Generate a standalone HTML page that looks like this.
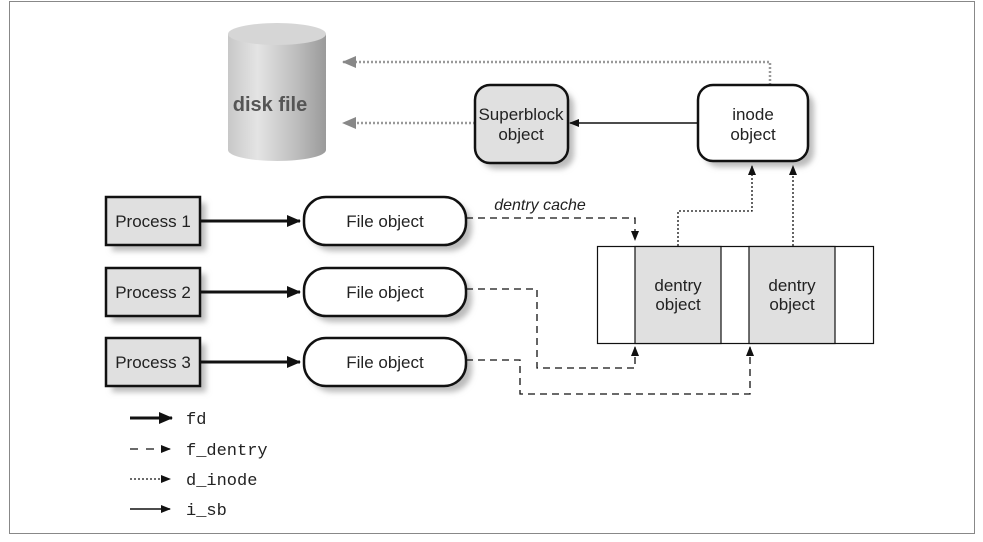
<!DOCTYPE html>
<html><head><meta charset="utf-8"><style>
html,body{margin:0;padding:0;background:#fff;}
svg{display:block;}
text{font-family:"Liberation Sans Narrow","Liberation Sans",sans-serif;}
.c{font-size:17px;text-anchor:middle;fill:#222;}
.m{font-family:"Liberation Mono",monospace;font-size:17px;fill:#222;}
</style></head><body>
<svg width="983" height="542" viewBox="0 0 983 542" xmlns="http://www.w3.org/2000/svg">
<defs>
<marker id="ah" markerWidth="10" markerHeight="8" refX="9" refY="4" orient="auto" markerUnits="userSpaceOnUse"><path d="M0,0 L10,4 L0,8 z" fill="#111"/></marker>
<marker id="ahb" markerWidth="14" markerHeight="12" refX="13" refY="6" orient="auto" markerUnits="userSpaceOnUse"><path d="M0,0 L14,6 L0,12 z" fill="#111"/></marker>
<marker id="ahg" markerWidth="14" markerHeight="12" refX="13" refY="6" orient="auto" markerUnits="userSpaceOnUse"><path d="M0,0 L14,6 L0,12 z" fill="#888"/></marker>
<linearGradient id="cyl" x1="0" x2="1">
<stop offset="0" stop-color="#c8c8c8"/><stop offset="0.3" stop-color="#e4e4e4"/><stop offset="0.7" stop-color="#bdbdbd"/><stop offset="1" stop-color="#9a9a9a"/></linearGradient>
<filter id="sh" x="-20%" y="-20%" width="150%" height="150%"><feGaussianBlur stdDeviation="3"/></filter>
</defs>
<rect x="9.5" y="1.5" width="965" height="532" fill="none" stroke="#888" stroke-width="1"/>

<path d="M228,34 L228,150 A49,11 0 0 0 326,150 L326,34 Z" fill="url(#cyl)"/>
<ellipse cx="277" cy="34" rx="49" ry="11" fill="#d6d6d6"/>
<text x="270" y="111" font-size="20" font-weight="bold" fill="#555" text-anchor="middle">disk file</text>

<polyline points="770,85 770,62 343,62" fill="none" stroke="#999" stroke-width="2.5" stroke-dasharray="2,2" marker-end="url(#ahg)"/>
<line x1="475" y1="123" x2="343" y2="123" stroke="#999" stroke-width="2.5" stroke-dasharray="2,2" marker-end="url(#ahg)"/>

<rect x="481" y="91" width="93" height="78" rx="15" fill="#bbb" filter="url(#sh)"/>
<rect x="475" y="85" width="93" height="78" rx="15" fill="#e0e0e0" stroke="#111" stroke-width="2.5"/>
<text class="c" x="521" y="120">Superblock</text><text class="c" x="521" y="140">object</text>
<line x1="698" y1="123" x2="570" y2="123" stroke="#111" stroke-width="1.5" marker-end="url(#ah)"/>
<rect x="704" y="91" width="110" height="76" rx="15" fill="#bbb" filter="url(#sh)"/>
<rect x="698" y="85" width="110" height="76" rx="15" fill="#fff" stroke="#111" stroke-width="2.5"/>
<text class="c" x="753" y="120">inode</text><text class="c" x="753" y="140">object</text>

<g>
<rect x="112" y="203" width="94" height="48" fill="#bbb" filter="url(#sh)"/>
<rect x="106" y="197" width="94" height="48" fill="#e0e0e0" stroke="#111" stroke-width="2.5"/>
<text class="c" x="153" y="227">Process 1</text>
<rect x="112" y="274" width="94" height="48" fill="#bbb" filter="url(#sh)"/>
<rect x="106" y="268" width="94" height="48" fill="#e0e0e0" stroke="#111" stroke-width="2.5"/>
<text class="c" x="153" y="298">Process 2</text>
<rect x="112" y="344" width="94" height="48" fill="#bbb" filter="url(#sh)"/>
<rect x="106" y="338" width="94" height="48" fill="#e0e0e0" stroke="#111" stroke-width="2.5"/>
<text class="c" x="153" y="368">Process 3</text>

<rect x="310" y="203" width="162" height="48" rx="22" fill="#bbb" filter="url(#sh)"/>
<rect x="304" y="197" width="162" height="48" rx="22" fill="#fff" stroke="#111" stroke-width="2.5"/>
<text class="c" x="385" y="227">File object</text>
<rect x="310" y="274" width="162" height="48" rx="22" fill="#bbb" filter="url(#sh)"/>
<rect x="304" y="268" width="162" height="48" rx="22" fill="#fff" stroke="#111" stroke-width="2.5"/>
<text class="c" x="385" y="298">File object</text>
<rect x="310" y="344" width="162" height="48" rx="22" fill="#bbb" filter="url(#sh)"/>
<rect x="304" y="338" width="162" height="48" rx="22" fill="#fff" stroke="#111" stroke-width="2.5"/>
<text class="c" x="385" y="368">File object</text>

<line x1="200" y1="221" x2="300" y2="221" stroke="#111" stroke-width="3" marker-end="url(#ahb)"/>
<line x1="200" y1="292" x2="300" y2="292" stroke="#111" stroke-width="3" marker-end="url(#ahb)"/>
<line x1="200" y1="362" x2="300" y2="362" stroke="#111" stroke-width="3" marker-end="url(#ahb)"/>
</g>

<text x="540" y="210" font-size="16" font-style="italic" text-anchor="middle" fill="#222">dentry cache</text>

<rect x="597.5" y="246.5" width="276" height="97" fill="#fff" stroke="#111" stroke-width="1.2"/>
<rect x="635" y="246.5" width="86" height="97" fill="#e0e0e0" stroke="#111" stroke-width="1.2"/>
<rect x="749" y="246.5" width="86" height="97" fill="#e0e0e0" stroke="#111" stroke-width="1.2"/>
<text class="c" x="678" y="291">dentry</text><text class="c" x="678" y="310">object</text>
<text class="c" x="792" y="291">dentry</text><text class="c" x="792" y="310">object</text>

<g fill="none" stroke="#111" stroke-width="1.3" stroke-dasharray="7,5">
<polyline points="466,218 635,218 635,240" marker-end="url(#ah)"/>
<polyline points="466,289 537,289 537,368 635,368 635,347" marker-end="url(#ah)"/>
<polyline points="466,360 520,360 520,394 750,394 750,347" marker-end="url(#ah)"/>
</g>
<g fill="none" stroke="#111" stroke-width="1.3" stroke-dasharray="2,2">
<polyline points="678,246 678,211 752,211 752,166" marker-end="url(#ah)"/>
<polyline points="793,246 793,166" marker-end="url(#ah)"/>
</g>

<line x1="130" y1="418" x2="172" y2="418" stroke="#111" stroke-width="3" marker-end="url(#ahb)"/>
<text class="m" x="186" y="424">fd</text>
<line x1="130" y1="449" x2="170" y2="449" stroke="#111" stroke-width="1.3" stroke-dasharray="8,8" marker-end="url(#ah)"/>
<text class="m" x="186" y="455">f_dentry</text>
<line x1="130" y1="479" x2="170" y2="479" stroke="#111" stroke-width="1.3" stroke-dasharray="2,2" marker-end="url(#ah)"/>
<text class="m" x="186" y="485">d_inode</text>
<line x1="130" y1="509" x2="170" y2="509" stroke="#111" stroke-width="1.5" marker-end="url(#ah)"/>
<text class="m" x="186" y="515">i_sb</text>
</svg>
</body></html>
